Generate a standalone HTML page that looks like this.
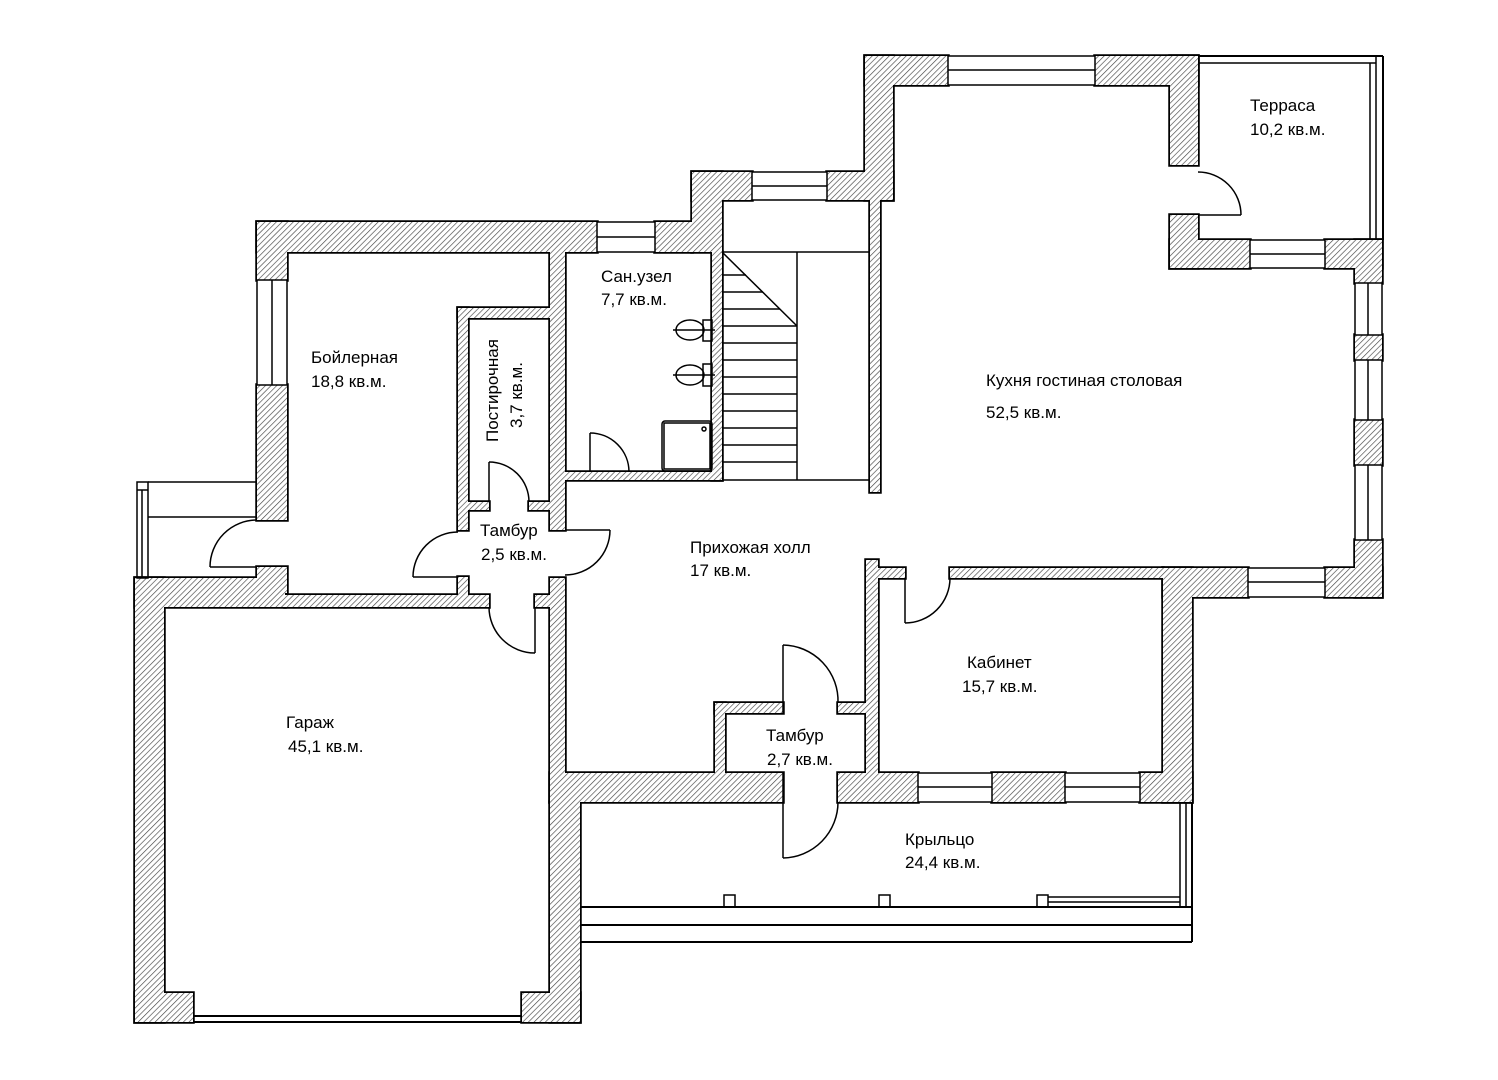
<!DOCTYPE html>
<html><head><meta charset="utf-8"><style>
html,body{margin:0;padding:0;background:#fff;}
svg{display:block;}
text{font-family:"Liberation Sans",sans-serif;font-size:17px;fill:#000;}
</style></head><body>
<svg width="1498" height="1080" viewBox="0 0 1498 1080" xmlns="http://www.w3.org/2000/svg" xmlns:xlink="http://www.w3.org/1999/xlink">
<defs>
<pattern id="h" width="4" height="4" patternUnits="userSpaceOnUse" patternTransform="rotate(45)">
<rect width="4" height="4" fill="#fff"/>
<line x1="0" y1="0" x2="0" y2="4" stroke="#444" stroke-width="1.3"/>
</pattern>
<g id="walls">
<rect x="135" y="578" width="150" height="29"/>
<rect x="135" y="578" width="29" height="444"/>
<rect x="135" y="993" width="58" height="29"/>
<rect x="522" y="993" width="58" height="29"/>
<rect x="550" y="802" width="30" height="220"/>
<rect x="550" y="578" width="15" height="224"/>
<rect x="257" y="222" width="340" height="30"/>
<rect x="655" y="222" width="37" height="30"/>
<rect x="257" y="222" width="30" height="58"/>
<rect x="257" y="385" width="30" height="135"/>
<rect x="257" y="567" width="30" height="26"/>
<rect x="285" y="595" width="204" height="12"/>
<rect x="535" y="595" width="15" height="12"/>
<rect x="458" y="308" width="92" height="10"/>
<rect x="458" y="308" width="10" height="222"/>
<rect x="458" y="577" width="10" height="18"/>
<rect x="468" y="502" width="21" height="8"/>
<rect x="529" y="502" width="21" height="8"/>
<rect x="550" y="252" width="15" height="278"/>
<rect x="565" y="472" width="157" height="8"/>
<rect x="712" y="252" width="10" height="228"/>
<rect x="692" y="172" width="60" height="28"/>
<rect x="827" y="172" width="66" height="28"/>
<rect x="692" y="172" width="30" height="80"/>
<rect x="870" y="200" width="10" height="292"/>
<rect x="865" y="56" width="83" height="29"/>
<rect x="1095" y="56" width="103" height="29"/>
<rect x="865" y="56" width="28" height="144"/>
<rect x="1170" y="56" width="28" height="109"/>
<rect x="1170" y="215" width="28" height="53"/>
<rect x="1170" y="240" width="80" height="28"/>
<rect x="1325" y="240" width="57" height="28"/>
<rect x="1355" y="240" width="27" height="43"/>
<rect x="1355" y="335" width="27" height="25"/>
<rect x="1355" y="420" width="27" height="45"/>
<rect x="1355" y="540" width="27" height="57"/>
<rect x="1163" y="568" width="85" height="29"/>
<rect x="1325" y="568" width="57" height="29"/>
<rect x="866" y="560" width="12" height="213"/>
<rect x="878" y="568" width="27" height="10"/>
<rect x="950" y="568" width="213" height="10"/>
<rect x="1163" y="568" width="29" height="234"/>
<rect x="838" y="773" width="80" height="29"/>
<rect x="992" y="773" width="73" height="29"/>
<rect x="1140" y="773" width="52" height="29"/>
<rect x="550" y="773" width="233" height="29"/>
<rect x="715" y="703" width="68" height="10"/>
<rect x="838" y="703" width="30" height="10"/>
<rect x="715" y="703" width="10" height="70"/>
</g>
</defs>
<use xlink:href="#walls" href="#walls" fill="#000" stroke="#000" stroke-width="3.5"/>
<use xlink:href="#walls" href="#walls" fill="url(#h)" stroke="none"/>
<g fill="#fff" stroke="#000" stroke-width="1.5">
<rect x="597" y="222" width="58" height="30"/><line x1="597" y1="237" x2="655" y2="237"/>
<rect x="752" y="172" width="75" height="28"/><line x1="752" y1="186" x2="827" y2="186"/>
<rect x="948" y="56" width="147" height="29"/><line x1="948" y1="70" x2="1095" y2="70"/>
<rect x="1250" y="240" width="75" height="28"/><line x1="1250" y1="254" x2="1325" y2="254"/>
<rect x="1248" y="568" width="77" height="29"/><line x1="1248" y1="582" x2="1325" y2="582"/>
<rect x="918" y="773" width="74" height="29"/><line x1="918" y1="787" x2="992" y2="787"/>
<rect x="1065" y="773" width="75" height="29"/><line x1="1065" y1="787" x2="1140" y2="787"/>
<rect x="257" y="280" width="30" height="105"/><line x1="272" y1="280" x2="272" y2="385"/>
<rect x="1355" y="283" width="27" height="52"/><line x1="1368" y1="283" x2="1368" y2="335"/>
<rect x="1355" y="360" width="27" height="60"/><line x1="1368" y1="360" x2="1368" y2="420"/>
<rect x="1355" y="465" width="27" height="75"/><line x1="1368" y1="465" x2="1368" y2="540"/>
</g>
<g fill="none" stroke="#000" stroke-width="1.5">
<line x1="193" y1="1016" x2="522" y2="1016" stroke-width="2"/>
<line x1="193" y1="1022" x2="522" y2="1022" stroke-width="2"/>
<rect x="137" y="482" width="11" height="96"/>
<line x1="142" y1="490" x2="142" y2="578"/>
<line x1="137" y1="490" x2="148" y2="490"/>
<line x1="148" y1="482" x2="257" y2="482"/>
<line x1="148" y1="517" x2="257" y2="517"/>
<line x1="1198" y1="56" x2="1383" y2="56" stroke-width="2"/>
<line x1="1198" y1="63" x2="1376" y2="63"/>
<line x1="1376" y1="56" x2="1376" y2="240"/>
<line x1="1383" y1="56" x2="1383" y2="240" stroke-width="2"/>
<line x1="1370" y1="63" x2="1370" y2="240"/>
<line x1="580" y1="907" x2="1192" y2="907" stroke-width="2"/>
<line x1="580" y1="925" x2="1192" y2="925" stroke-width="2"/>
<line x1="580" y1="942" x2="1192" y2="942" stroke-width="2"/>
<line x1="1192" y1="802" x2="1192" y2="942" stroke-width="2"/>
<line x1="1180" y1="802" x2="1180" y2="907"/>
<line x1="1186" y1="802" x2="1186" y2="907"/>
<rect x="724" y="895" width="11" height="12"/>
<rect x="879" y="895" width="11" height="12"/>
<rect x="1037" y="895" width="11" height="12"/>
<line x1="1048" y1="897" x2="1180" y2="897"/>
<line x1="1048" y1="902" x2="1180" y2="902"/>
<line x1="722" y1="252" x2="870" y2="252"/>
<line x1="722" y1="480" x2="870" y2="480"/>
<line x1="797" y1="252" x2="797" y2="480"/>
<line x1="722" y1="252" x2="797" y2="326"/>
<line x1="722" y1="275" x2="746" y2="275"/><line x1="722" y1="292" x2="763" y2="292"/><line x1="722" y1="309" x2="780" y2="309"/>
<line x1="722" y1="326" x2="797" y2="326"/><line x1="722" y1="343" x2="797" y2="343"/><line x1="722" y1="360" x2="797" y2="360"/>
<line x1="722" y1="377" x2="797" y2="377"/><line x1="722" y1="394" x2="797" y2="394"/><line x1="722" y1="411" x2="797" y2="411"/>
<line x1="722" y1="428" x2="797" y2="428"/><line x1="722" y1="445" x2="797" y2="445"/><line x1="722" y1="462" x2="797" y2="462"/>
<ellipse cx="690" cy="330" rx="14" ry="10"/><rect x="703" y="320" width="9" height="21"/><line x1="673" y1="330" x2="715" y2="330"/>
<ellipse cx="690" cy="375" rx="14" ry="10"/><rect x="703" y="364" width="9" height="22"/><line x1="673" y1="375" x2="715" y2="375"/>
<rect x="662" y="421" width="50" height="50" rx="3"/><rect x="664" y="423" width="46" height="46"/>
<circle cx="704" cy="429" r="2"/>
<path d="M210 567 A47 47 0 0 1 257 520"/><line x1="210" y1="567" x2="257" y2="567"/>
<path d="M413 577 A45 45 0 0 1 458 532"/><line x1="413" y1="577" x2="458" y2="577"/>
<path d="M489 462 A40 40 0 0 1 529 502"/><line x1="489" y1="462" x2="489" y2="502"/>
<path d="M610 530 A45 45 0 0 1 565 575"/><line x1="565" y1="530" x2="610" y2="530"/>
<path d="M535 653 A46 46 0 0 1 489 607"/><line x1="535" y1="607" x2="535" y2="653"/>
<path d="M590 433 A39 39 0 0 1 629 472"/><line x1="590" y1="433" x2="590" y2="472"/>
<path d="M1198 172 A43 43 0 0 1 1241 215"/><line x1="1198" y1="215" x2="1241" y2="215"/>
<path d="M950 578 A45 45 0 0 1 905 623"/><line x1="905" y1="578" x2="905" y2="623"/>
<path d="M783 645 A56 56 0 0 1 838 703"/><line x1="783" y1="645" x2="783" y2="713"/>
<path d="M838 802 A56 56 0 0 1 783 858"/><line x1="783" y1="773" x2="783" y2="858"/>
</g>
<g>
<text x="1250" y="111">Терраса</text><text x="1250" y="135">10,2 кв.м.</text>
<text x="601" y="282">Сан.узел</text><text x="601" y="305">7,7 кв.м.</text>
<text x="311" y="363">Бойлерная</text><text x="311" y="387">18,8 кв.м.</text>
<text transform="translate(498,442) rotate(-90)">Постирочная</text>
<text transform="translate(522,428) rotate(-90)">3,7 кв.м.</text>
<text x="986" y="386">Кухня гостиная столовая</text><text x="986" y="418">52,5 кв.м.</text>
<text x="480" y="536">Тамбур</text><text x="481" y="560">2,5 кв.м.</text>
<text x="690" y="553">Прихожая холл</text><text x="690" y="576">17 кв.м.</text>
<text x="967" y="668">Кабинет</text><text x="962" y="692">15,7 кв.м.</text>
<text x="286" y="728">Гараж</text><text x="288" y="752">45,1 кв.м.</text>
<text x="766" y="741">Тамбур</text><text x="767" y="765">2,7 кв.м.</text>
<text x="905" y="845">Крыльцо</text><text x="905" y="868">24,4 кв.м.</text>
</g>
</svg>
</body></html>
